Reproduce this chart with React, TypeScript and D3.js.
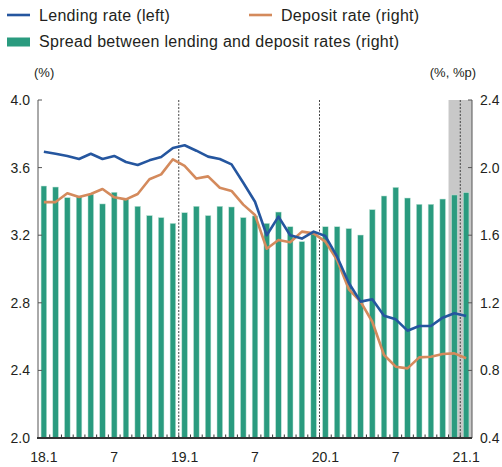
import React from "react";
import * as d3 from "d3";

// monthly, 2018.1 - 2021.1
const months = d3.range(37).map((i) => {
  const y = 18 + Math.floor(i / 12);
  return `${y}.${(i % 12) + 1}`;
});

const tickMonths = ["18.1", "18.7", "19.1", "19.7", "20.1", "20.7", "21.1"];
const tickLabels = ["18.1", "7", "19.1", "7", "20.1", "7", "21.1"];
const yearStarts = ["19.1", "20.1", "21.1"];
const shaded = ["20.12", "21.1"];

const leftTicks = [2.0, 2.4, 2.8, 3.2, 3.6, 4.0];
const rightTicks = [0.4, 0.8, 1.2, 1.6, 2.0, 2.4];

const lending = [
  3.694, 3.682, 3.669, 3.651, 3.682, 3.651, 3.669, 3.633, 3.615, 3.643, 3.663, 3.716,
  3.732, 3.7, 3.665, 3.651, 3.619, 3.51, 3.398, 3.2, 3.31, 3.2, 3.18, 3.221,
  3.195, 3.073, 2.917, 2.807, 2.821, 2.724, 2.702, 2.635, 2.663, 2.663, 2.712, 2.738,
  2.722,
];
const deposit = [
  1.796, 1.796, 1.848, 1.826, 1.844, 1.873, 1.824, 1.812, 1.844, 1.931, 1.96, 2.049,
  2.01, 1.935, 1.948, 1.881, 1.862, 1.781, 1.72, 1.52, 1.572, 1.558, 1.621, 1.611,
  1.562, 1.453, 1.28, 1.207, 1.088, 0.891, 0.822, 0.812, 0.877, 0.881, 0.897, 0.901,
  0.872,
];
const spread = [
  1.891, 1.885, 1.822, 1.832, 1.842, 1.785, 1.854, 1.814, 1.771, 1.716, 1.704, 1.67,
  1.733, 1.771, 1.716, 1.771, 1.767, 1.704, 1.714, 1.67, 1.737, 1.65, 1.562, 1.61,
  1.65, 1.65, 1.639, 1.601, 1.751, 1.832, 1.883, 1.82, 1.783, 1.783, 1.814, 1.838,
  1.852,
];

const BLUE = "#25569f";
const ORANGE = "#d48a5c";
const GREEN = "#2a9b7f";
const TXT = "#231f20";
const FONT = "'Liberation Sans', Arial, sans-serif";

export default function App() {
  const W = 502, H = 467;
  const m = { left: 38, right: 472, top: 100, bottom: 438 };

  const x = d3.scaleBand().domain(months).range([m.left, m.right]).padding(0);
  const yL = d3.scaleLinear().domain([2.0, 4.0]).range([m.bottom, m.top]);
  const yR = d3.scaleLinear().domain([0.4, 2.4]).range([m.bottom, m.top]);
  const bw = x.bandwidth();
  const cx = (d: string) => (x(d) as number) + bw / 2;

  const lendLine = d3.line<number>().x((_, i) => cx(months[i])).y((d) => yL(d));
  const depLine = d3.line<number>().x((_, i) => cx(months[i])).y((d) => yR(d));

  const barW = 5.6;
  const legendFont = { fontSize: 16, letterSpacing: 0.3, fill: TXT };

  return (
    <div style={{ position: "fixed", left: 0, top: 0 }}>
      <svg width={W} height={H} style={{ display: "block", fontFamily: FONT }}>
        <rect width={W} height={H} fill="#fff" />

        {/* legend */}
        <line x1={7} x2={30} y1={15} y2={15} stroke={BLUE} strokeWidth={2.6} />
        <text x={39} y={20.7} {...legendFont}>Lending rate (left)</text>
        <line x1={249} x2={272} y1={15} y2={15} stroke={ORANGE} strokeWidth={2.6} />
        <text x={281} y={20.7} {...legendFont}>Deposit rate (right)</text>
        <rect x={7} y={37.5} width={23} height={9} fill={GREEN} />
        <text x={39} y={47.3} {...legendFont}>Spread between lending and deposit rates (right)</text>

        {/* units */}
        <text x={34} y={77} fontSize={13} fill={TXT}>(%)</text>
        <text x={476} y={77} fontSize={13} fill={TXT} textAnchor="end">(%, %p)</text>

        {/* shaded period */}
        <rect
          x={x(shaded[0]) as number}
          y={m.top}
          width={(x(shaded[1]) as number) + bw - (x(shaded[0]) as number)}
          height={m.bottom - m.top}
          fill="#c8c8c8"
        />

        {/* bars */}
        {spread.map((v, i) => (
          <rect
            key={i}
            x={cx(months[i]) - barW / 2}
            y={yR(v)}
            width={barW}
            height={yR(0.4) - yR(v)}
            fill={GREEN}
            stroke="#bfe3d6"
            strokeWidth={0.5}
          />
        ))}

        {/* year separators */}
        {yearStarts.map((d) => (
          <line
            key={d}
            x1={x(d) as number}
            x2={x(d) as number}
            y1={m.top}
            y2={m.bottom}
            stroke="#444"
            strokeWidth={1}
            strokeDasharray="2,1.5"
          />
        ))}

        {/* lines */}
        <path d={depLine(deposit) as string} fill="none" stroke={ORANGE} strokeWidth={2.6} strokeLinejoin="round" />
        <path d={lendLine(lending) as string} fill="none" stroke={BLUE} strokeWidth={2.6} strokeLinejoin="round" />

        {/* axes */}
        <line x1={m.left} x2={m.left} y1={m.top} y2={m.bottom} stroke="#555" strokeWidth={1} />
        <line x1={m.right} x2={m.right} y1={m.top} y2={m.bottom} stroke="#555" strokeWidth={1} />
        {leftTicks.map((t) => (
          <g key={"l" + t}>
            <line x1={m.left} x2={m.left + 4} y1={yL(t)} y2={yL(t)} stroke="#555" />
            <text x={30} y={yL(t) + 5} fontSize={14} fill={TXT} textAnchor="end">
              {t.toFixed(1)}
            </text>
          </g>
        ))}
        {rightTicks.map((t) => (
          <g key={"r" + t}>
            <line x1={m.right - 4} x2={m.right} y1={yR(t)} y2={yR(t)} stroke="#555" />
            <text x={480} y={yR(t) + 5} fontSize={14} fill={TXT}>
              {t.toFixed(1)}
            </text>
          </g>
        ))}
        {months.slice(1).map((d) => (
          <line key={"t" + d} x1={x(d) as number} x2={x(d) as number} y1={m.bottom} y2={m.bottom - 3.5} stroke="#333" />
        ))}
        <line x1={m.left - 1} x2={m.right} y1={m.bottom} y2={m.bottom} stroke="#333" strokeWidth={2} />
        {tickMonths.map((d, i) => (
          <text key={"x" + d} x={cx(d)} y={462} fontSize={14} fill={TXT} textAnchor="middle">
            {tickLabels[i]}
          </text>
        ))}
      </svg>
    </div>
  );
}
